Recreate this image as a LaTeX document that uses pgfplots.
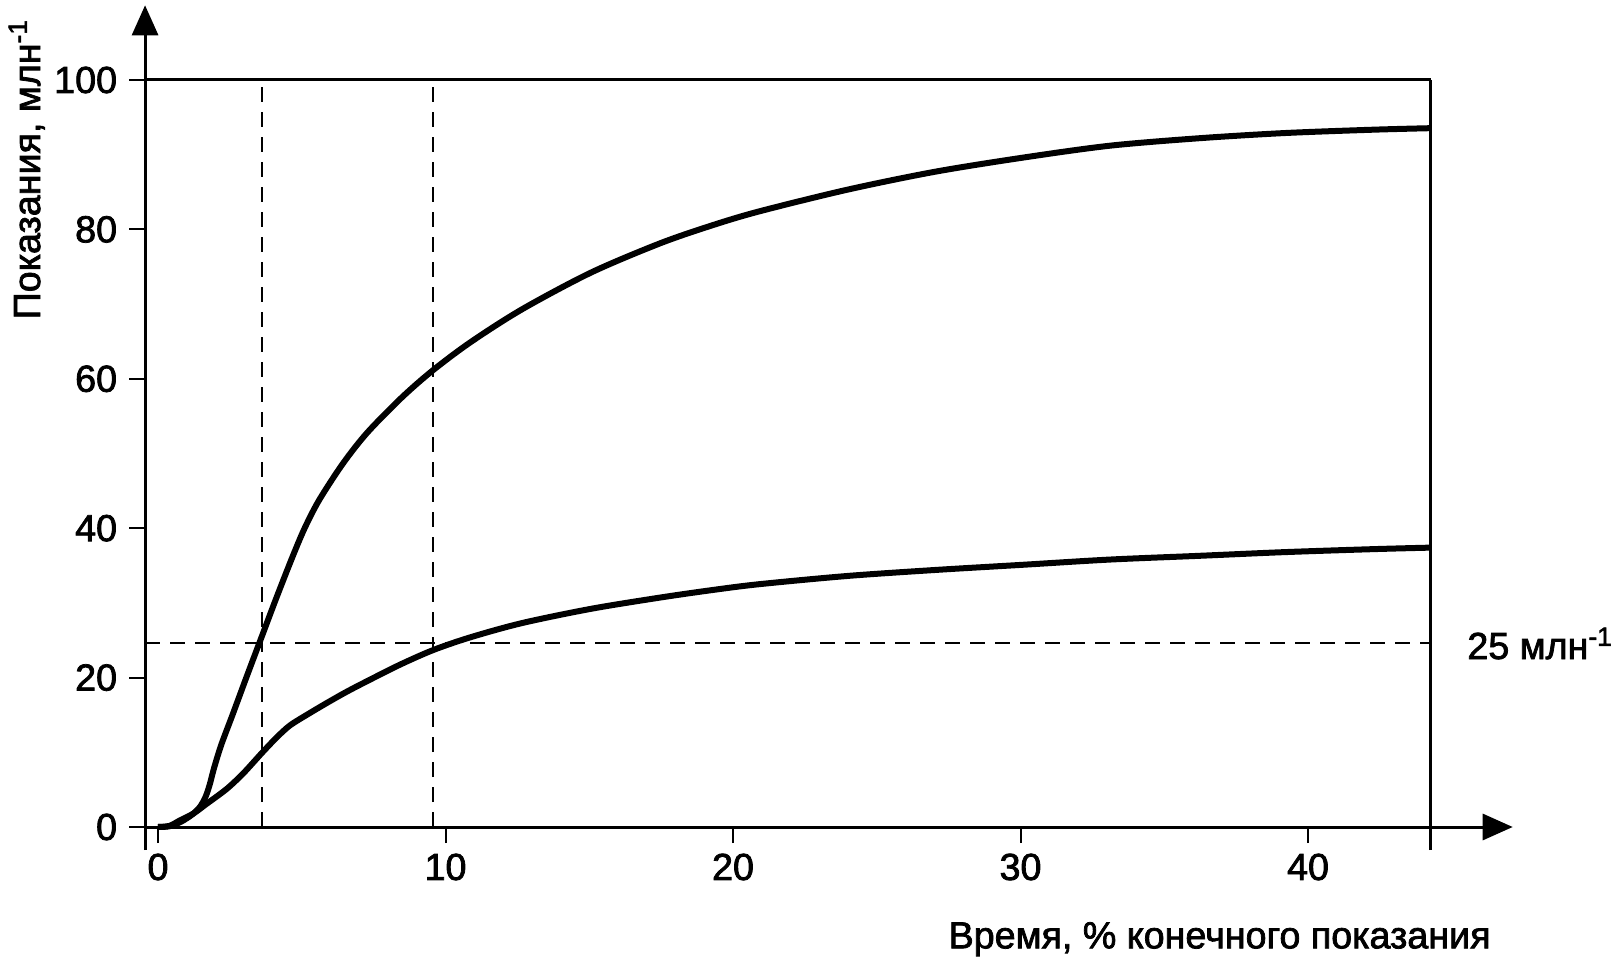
\documentclass[border=0pt]{standalone}
\usepackage{pgfplots}
\pgfplotsset{compat=1.18}
\usepackage{fontspec}
\setmainfont{Liberation Sans}[FakeBold=2]
\usetikzlibrary{arrows.meta}
\begin{document}
\fontsize{11.3}{13.4}\selectfont
\begin{tikzpicture}
\begin{axis}[
  x=8.625pt, y=2.241pt,
  xmin=-0.45, xmax=44.27, ymin=0, ymax=100,
  axis lines=left,
  axis line style={draw=none},
  clip=false,
  xtick={0,10,20,30,40},
  ytick={0,20,40,60,80,100},
  tick align=outside,
  major tick length=4.8pt,
  every tick/.style={line width=0.6pt, black},
  /pgf/number format/assume math mode=true,
  xticklabel style={inner sep=0pt, anchor=north, yshift=-3pt, font=\fontsize{11.3}{13.4}\selectfont},
  yticklabel style={inner sep=0pt, anchor=east, xshift=-3.4pt, font=\fontsize{11.3}{13.4}\selectfont},
]
% frame and axes
\draw[line width=0.9pt, -{Triangle[length=9pt,width=7.8pt]}] (axis cs:-0.45,-3.1) -- (axis cs:-0.45,110);
\draw[line width=0.9pt, -{Triangle[length=9pt,width=7.8pt]}] (axis cs:-0.45,0) -- (axis cs:47.12,0);
\draw[line width=0.9pt] (axis cs:-0.45,100) -- (axis cs:44.27,100);
\draw[line width=0.9pt] (axis cs:44.27,-3.1) -- (axis cs:44.27,100);
% dashed guides
\draw[line width=0.6pt, dash pattern=on 4.5pt off 3pt] (axis cs:3.61,0) -- (axis cs:3.61,100);
\draw[line width=0.6pt, dash pattern=on 4.5pt off 3pt] (axis cs:9.565,0) -- (axis cs:9.565,100);
\draw[line width=0.6pt, dash pattern=on 4.5pt off 3pt] (axis cs:-0.45,24.6) -- (axis cs:44.27,24.6);
% upper curve
\addplot[line width=1.8pt, black, smooth, tension=0.5, line join=round] coordinates {
(0,0) (0.4,0.1) (0.8,0.7) (1.2,1.7) (1.46,2.7) (1.65,4.0) (1.8,5.7) (1.95,7.9)
(2.2,11.0) (2.6,15.1) (3.1,20.3) (3.6,25.4) (4.1,30.5) (4.65,35.9) (5.1,40.0)
(5.61,43.8) (6.44,48.7) (7.28,52.8) (8.48,57.5) (9.55,61.1) (10.87,64.9)
(12.66,69.3) (15.05,74.2) (17.44,78.1) (19.24,80.5) (20.9,82.4) (23.96,85.3)
(27.0,87.7) (30.07,89.6) (33.1,91.2) (36.2,92.2) (39.2,92.9) (42.3,93.35) (44.27,93.55)
};
% lower curve
\addplot[line width=1.8pt, black, smooth, tension=0.5, line join=round] coordinates {
(0,0) (0.4,0.15) (0.77,0.9) (1.23,1.8) (1.69,3.1) (2.39,5.1) (2.97,7.2) (3.61,9.9)
(4.13,12.0) (4.59,13.6) (5.17,15.0) (5.87,16.6) (6.56,18.1) (7.26,19.5) (8.4,21.7)
(9.58,23.7) (10.87,25.4) (12.66,27.3) (15.05,29.2) (17.44,30.7) (19.24,31.7)
(20.9,32.5) (23.96,33.6) (27.0,34.4) (30.07,35.1) (33.1,35.8) (36.2,36.3)
(39.2,36.8) (42.3,37.2) (44.27,37.4)
};
% texts
\node[rotate=90, anchor=base west, inner sep=0pt] at (axis cs:-4.104,67.87) {Показания, млн\textsuperscript{-1}};
\node[anchor=base east, inner sep=0pt] at (axis cs:46.37,-16.24) {Время, \% конечного показания};
\node[anchor=base west, inner sep=0pt] at (axis cs:45.52,22.49) {25 млн\textsuperscript{-1}};
\coordinate (bl) at (axis cs:-5.496,-18.206);
\coordinate (tr) at (axis cs:50.643,110.71);
\end{axis}
\pgfresetboundingbox
\path[use as bounding box] (bl) rectangle (tr);
\end{tikzpicture}
\end{document}
